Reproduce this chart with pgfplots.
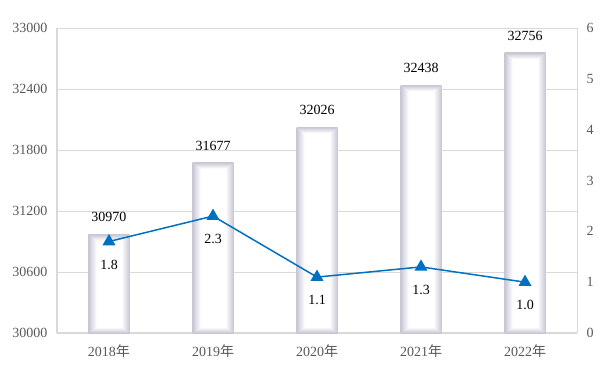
\documentclass[border=0pt]{standalone}
\usepackage{fontspec}
\setmainfont{Liberation Serif}
\newfontfamily\cjk{Noto Sans CJK SC}
\usepackage{pgfplots}
\usepackage{pgfplotstable}
\pgfplotsset{compat=1.18}
\definecolor{tickgray}{RGB}{89,89,89}
\definecolor{gridgray}{RGB}{217,217,217}
\definecolor{lineblue}{RGB}{0,112,192}
% glow shading: edge colour (198,198,212) fading to white inside
\newcommand\declglow[2]{\pgfdeclarefunctionalshading{#1}{\pgfpoint{-50bp}{-50bp}}{\pgfpoint{50bp}{50bp}}{}{exch abs 25 exch sub 9.76 div exch abs 25 exch sub #2 div 2 copy gt {exch} if pop dup 1 gt {pop 1} if dup 0 lt {pop 0} if dup 0.224 mul 0.776 add exch dup 0.224 mul 0.776 add exch 0.169 mul 0.831 add}}
\declglow{glowA}{3.04}
\declglow{glowB}{1.76}
\declglow{glowC}{1.46}
\declglow{glowD}{1.21}
\declglow{glowE}{1.07}
\pgfplotsset{barsty/.style={ybar, bar width=41pt, draw=none, shading=#1}}
\pgfplotstableread{
x y
0 1.8
1 2.3
2 1.1
3 1.3
4 1.0
}\growth
\begin{document}
\begin{tikzpicture}
\begin{axis}[
  scale only axis, width=520pt, height=305pt,
  xmin=-0.5, xmax=4.5, ymin=0, ymax=3000,
  y filter/.expression={y-30000},
  ytick={0,600,...,3000},
  yticklabels={30000,30600,31200,31800,32400,33000},
  xtick={0,...,4},
  xticklabels={2018{\cjk 年},2019{\cjk 年},2020{\cjk 年},2021{\cjk 年},2022{\cjk 年}},
  axis x line*=bottom, axis y line*=left,
  axis line style={-, draw=gridgray, line width=1.6pt},
  ymajorgrids, grid style={draw=gridgray, line width=0.8pt},
  major tick length=0pt,
  tick label style={font=\fontsize{14}{16}\selectfont, text=tickgray},
  /pgf/number format/assume math mode=true,
  /pgf/number format/1000 sep={},
  yticklabel style={xshift=-6pt},
  xticklabel style={yshift=-8pt},
]
\addplot[barsty=glowA] coordinates {(0,30970)};
\addplot[barsty=glowB] coordinates {(1,31677)};
\addplot[barsty=glowC] coordinates {(2,32026)};
\addplot[barsty=glowD] coordinates {(3,32438)};
\addplot[barsty=glowE] coordinates {(4,32756)};
\addplot[draw=none, mark=none, point meta=rawy, nodes near coords,
  every node near coord/.style={anchor=center, yshift=17pt, text=black, font=\fontsize{14}{16}\selectfont}]
  coordinates {(0,30970) (1,31677) (2,32026) (3,32438) (4,32756)};
\end{axis}
\begin{axis}[
  scale only axis, width=520pt, height=305pt,
  xmin=-0.5, xmax=4.5, ymin=0, ymax=6,
  ytick={0,...,6}, xtick=\empty,
  axis y line*=right, axis x line*=top,
  axis line style={-, draw=gridgray, line width=0.8pt},
  major tick length=0pt,
  tick label style={font=\fontsize{14}{16}\selectfont, text=tickgray},
  /pgf/number format/assume math mode=true,
  yticklabel style={xshift=6pt},
]
\addplot[lineblue, line width=1.5pt, mark=triangle*, mark size=6pt,
  nodes near coords,
  every node near coord/.style={anchor=center, yshift=-23pt, text=black, font=\fontsize{14}{16}\selectfont},
  /pgf/number format/.cd, fixed, fixed zerofill, precision=1, assume math mode=true]
  table[x=x, y=y] {\growth};
\end{axis}
\pgfresetboundingbox
\path ([shift={(-57pt,-45pt)}]current axis.south west) rectangle ([shift={(38pt,28pt)}]current axis.north east);
\end{tikzpicture}
\end{document}
